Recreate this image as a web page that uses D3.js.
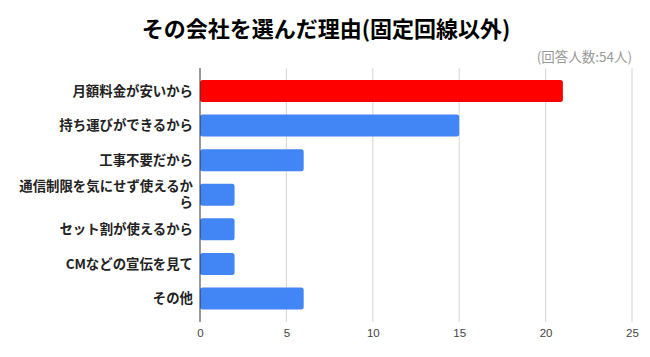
<!DOCTYPE html>
<html><head><meta charset="utf-8">
<script src="https://cdn.jsdelivr.net/npm/d3@7"></script>
<style>
html,body{margin:0;padding:0;background:#fff;}
svg{display:block;}
</style></head>
<body>
<svg id="chart" width="650" height="357"></svg>
<script>
const categories = ["月額料金が安いから","持ち運びができるから","工事不要だから","通信制限を気にせず使えるから","セット割が使えるから","CMなどの宣伝を見て","その他"];
const labelLines = [["月額料金が安いから"],["持ち運びができるから"],["工事不要だから"],["通信制限を気にせず使えるか","ら"],["セット割が使えるから"],["CMなどの宣伝を見て"],["その他"]];
const values = [21, 15, 6, 2, 2, 2, 6];
const highlight = [true, false, false, false, false, false, false];
const xTicks = [0, 5, 10, 15, 20, 25];
const titleText = "その会社を選んだ理由(固定回線以外)";
const subtitleText = "(回答人数:54人)";

const svg = d3.select("#chart");
const jpFont = "'Noto Sans CJK JP', 'Noto Sans', sans-serif";
const x = d3.scaleLinear().domain([0, 25]).range([200, 632]);
const y = d3.scaleBand().domain(categories).range([73.7, 315.8]).padding(0);
const barH = 22;
const plotTop = 68, plotBottom = 322;

svg.append("text").attr("x", 326).attr("y", 37).attr("text-anchor", "middle")
  .attr("font-family", jpFont).attr("font-weight", "bold").attr("font-size", 22)
  .attr("fill", "#000").text(titleText);

svg.append("text").attr("x", 632).attr("y", 62).attr("text-anchor", "end")
  .attr("font-family", jpFont).attr("font-size", 13.5)
  .attr("fill", "#999").text(subtitleText);

// gridlines
svg.append("g").selectAll("line").data(xTicks.filter(d => d > 0)).join("line")
  .attr("x1", d => x(d)).attr("x2", d => x(d))
  .attr("y1", plotTop).attr("y2", plotBottom)
  .attr("stroke", "#dcdcdc").attr("stroke-width", 1.2);

// bars
svg.append("g").selectAll("rect").data(categories).join("rect")
  .attr("x", x(0))
  .attr("y", d => y(d) + y.bandwidth() / 2 - barH / 2)
  .attr("width", (d, i) => x(values[i]) - x(0))
  .attr("height", barH)
  .attr("rx", 2.5)
  .attr("fill", (d, i) => highlight[i] ? "#ff0000" : "#4285f4");

// zero axis line
svg.append("line").attr("x1", x(0)).attr("x2", x(0)).attr("y1", plotTop).attr("y2", plotBottom)
  .attr("stroke", "#333").attr("stroke-width", 1);

// x axis tick labels
const xAxis = d3.axisBottom(x).tickValues(xTicks).tickSize(0).tickPadding(0);
const gx = svg.append("g").attr("transform", `translate(0,${plotBottom})`).call(xAxis);
gx.select(".domain").remove();
gx.selectAll("text").attr("font-family", "'Liberation Sans', Arial, sans-serif")
  .attr("font-size", 11.5).attr("fill", "#444").attr("dy", "1.1em").attr("y", 2);

// category labels
const lg = svg.append("g");
categories.forEach((c, i) => {
  const lines = labelLines[i];
  const cy = y(c) + y.bandwidth() / 2;
  const lh = 16;
  lines.forEach((ln, j) => {
    lg.append("text").attr("text-anchor", "end")
      .attr("font-family", jpFont).attr("font-weight", "bold").attr("font-size", 13.4)
      .attr("fill", "#222")
      .attr("x", 193)
      .attr("y", cy + (j - (lines.length - 1) / 2) * lh)
      .attr("dy", "0.35em").text(ln);
  });
});
</script>
</body></html>
